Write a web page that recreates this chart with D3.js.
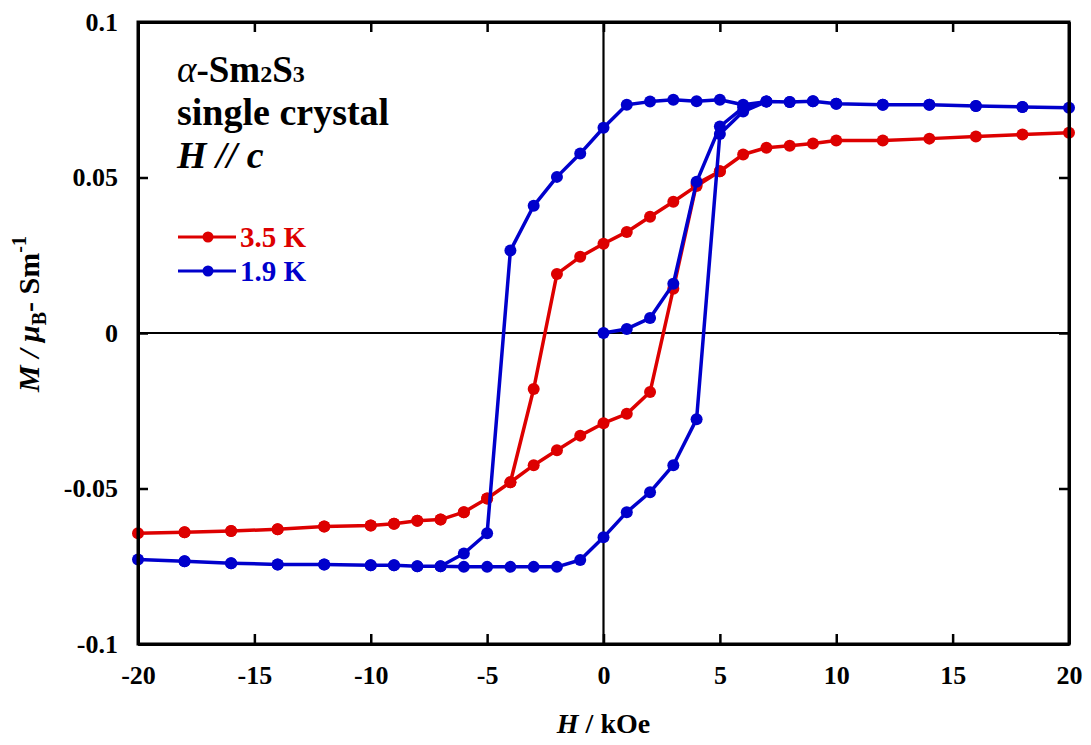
<!DOCTYPE html>
<html>
<head>
<meta charset="utf-8">
<script src="https://cdn.jsdelivr.net/npm/d3@7"></script>
<style>
  body { margin: 0; background: #fff; }
  text { font-family: "Liberation Serif", "Times New Roman", serif; font-weight: bold; }
</style>
</head>
<body>
<script>
var margin = { top: 22, right: 22, bottom: 101, left: 138 },
  w = 1091, h = 745;

// 3.5 K loop: descending branch (+20 -> -20), then ascending (-20 -> +5)
var redH = [20, 18, 16, 14, 12, 10, 9, 8, 7, 6, 5, 4, 3, 2, 1, 0, -1, -2, -3, -4, -5, -6, -7, -8, -9, -10, -12, -14, -16, -18, -20,
            -18, -16, -14, -12, -10, -9, -8, -7, -6, -5, -4, -3, -2, -1, 0, 1, 2, 3, 4, 5];
var redM = [0.0644, 0.0638, 0.0632, 0.0625, 0.0619, 0.0619, 0.0609, 0.0602, 0.0596, 0.0574, 0.0520, 0.0473, 0.0422, 0.0374, 0.0325, 0.0287, 0.0245, 0.0190, -0.0180, -0.0480, -0.0532, -0.0576, -0.0600, -0.0604, -0.0613, -0.0619, -0.0622, -0.0631, -0.0637, -0.0641, -0.0644,
            -0.0641, -0.0637, -0.0631, -0.0622, -0.0619, -0.0613, -0.0604, -0.0600, -0.0576, -0.0532, -0.0480, -0.0425, -0.0377, -0.0330, -0.0290, -0.0260, -0.0190, 0.0142, 0.0480, 0.0520];

// 1.9 K: virgin curve from 0, then descending, then ascending
var blueH = [0, 1, 2, 3, 4, 5, 6, 7, 8, 9, 10, 12, 14, 16, 18, 20,
             18, 16, 14, 12, 10, 9, 8, 7, 6, 5, 4, 3, 2, 1, 0, -1, -2, -3, -4, -5, -6, -7, -8, -9, -10, -12, -14, -16, -18, -20,
             -18, -16, -14, -12, -10, -9, -8, -7, -6, -5, -4, -3, -2, -1, 0, 1, 2, 3, 4, 5, 6, 7];
var blueM = [0, 0.0013, 0.0048, 0.0158, 0.0486, 0.0664, 0.0725, 0.0744, 0.0743, 0.0745, 0.0737, 0.0734, 0.0734, 0.0730, 0.0727, 0.0724,
             0.0727, 0.0730, 0.0734, 0.0734, 0.0737, 0.0745, 0.0743, 0.0744, 0.0734, 0.0750, 0.0745, 0.0750, 0.0744, 0.0734, 0.0660, 0.0577, 0.0502, 0.0409, 0.0265, -0.0644, -0.0709, -0.0750, -0.0750, -0.0747, -0.0747, -0.0744, -0.0744, -0.0740, -0.0734, -0.0728,
             -0.0734, -0.0740, -0.0744, -0.0744, -0.0747, -0.0747, -0.0750, -0.0750, -0.0752, -0.0752, -0.0752, -0.0752, -0.0752, -0.0730, -0.0657, -0.0576, -0.0512, -0.0425, -0.0277, 0.0640, 0.0712, 0.0744];

var xTicks = [-20, -15, -10, -5, 0, 5, 10, 15, 20];
var xTickLabels = ["-20", "-15", "-10", "-5", "0", "5", "10", "15", "20"];
var yTicks = [-0.1, -0.05, 0, 0.05, 0.1];
var yTickLabels = ["-0.1", "-0.05", "0", "0.05", "0.1"];

var series = [
  { name: "3.5 K", color: "#dd0000", H: redH, M: redM },
  { name: "1.9 K", color: "#0000cc", H: blueH, M: blueM }
];

var svg = d3.select("body").append("svg")
  .attr("width", w)
  .attr("height", h);

var xScale = d3.scaleLinear().domain([-20, 20]).range([margin.left, w - margin.right]);
var yScale = d3.scaleLinear().domain([-0.1, 0.1]).range([h - margin.bottom, margin.top]);

// zero lines
svg.append("line")
  .attr("x1", xScale(-20)).attr("x2", xScale(20))
  .attr("y1", yScale(0)).attr("y2", yScale(0))
  .attr("stroke", "#000").attr("stroke-width", 2.2);
svg.append("line")
  .attr("x1", xScale(0)).attr("x2", xScale(0))
  .attr("y1", yScale(-0.1)).attr("y2", yScale(0.1))
  .attr("stroke", "#000").attr("stroke-width", 2.2);

// data
var line = d3.line()
  .x(function(d) { return xScale(d[0]); })
  .y(function(d) { return yScale(d[1]); });

series.forEach(function(s) {
  var pts = s.H.map(function(v, i) { return [v, s.M[i]]; });
  svg.append("path")
    .datum(pts)
    .attr("d", line)
    .attr("fill", "none")
    .attr("stroke", s.color)
    .attr("stroke-width", 3.5)
    .attr("stroke-linejoin", "round");
  svg.append("g").selectAll("circle").data(pts).enter().append("circle")
    .attr("cx", function(d) { return xScale(d[0]); })
    .attr("cy", function(d) { return yScale(d[1]); })
    .attr("r", 6)
    .attr("fill", s.color);
});

// axes with inward ticks
var fmtY = function(d) { return yTickLabels[yTicks.indexOf(d)]; };
var fmtX = function(d) { return xTickLabels[xTicks.indexOf(d)]; };
var axB = svg.append("g").attr("transform", "translate(0," + yScale(-0.1) + ")")
  .call(d3.axisBottom(xScale).tickValues(xTicks).tickSizeInner(-10).tickSizeOuter(0).tickPadding(22).tickFormat(fmtX));
var axT = svg.append("g").attr("transform", "translate(0," + yScale(0.1) + ")")
  .call(d3.axisTop(xScale).tickValues(xTicks).tickSizeInner(-10).tickSizeOuter(0).tickFormat(""));
var axL = svg.append("g").attr("transform", "translate(" + xScale(-20) + ",0)")
  .call(d3.axisLeft(yScale).tickValues(yTicks).tickSizeInner(-10).tickSizeOuter(0).tickPadding(20).tickFormat(fmtY));
var axR = svg.append("g").attr("transform", "translate(" + xScale(20) + ",0)")
  .call(d3.axisRight(yScale).tickValues(yTicks).tickSizeInner(-10).tickSizeOuter(0).tickFormat(""));

[axB, axT, axL, axR].forEach(function(a) {
  a.select(".domain").attr("stroke", "#000").attr("stroke-width", 3);
  a.selectAll(".tick line").attr("stroke", "#000").attr("stroke-width", 2.5);
  a.selectAll("text").attr("fill", "#000").style("font-size", "26px")
    .style("font-family", "'Liberation Serif', serif").style("font-weight", "bold");
});
axB.selectAll("text").attr("dy", "0.71em");

// frame
svg.append("rect")
  .attr("x", xScale(-20)).attr("y", yScale(0.1))
  .attr("width", xScale(20) - xScale(-20)).attr("height", yScale(-0.1) - yScale(0.1))
  .attr("fill", "none").attr("stroke", "#000").attr("stroke-width", 3);

// x label
var xl = svg.append("text").attr("x", xScale(0)).attr("y", 733).attr("text-anchor", "middle")
  .style("font-size", "28px");
xl.append("tspan").style("font-style", "italic").text("H");
xl.append("tspan").text(" / kOe");

// y label
var yl = svg.append("text").attr("transform", "translate(39," + 314 + ") rotate(-90)")
  .attr("text-anchor", "middle").style("font-size", "30px");
yl.append("tspan").style("font-style", "italic").text("M / \u03bc");
yl.append("tspan").attr("dy", 7).style("font-size", "20px").text("B");
yl.append("tspan").attr("dy", -7).text("- Sm");
yl.append("tspan").attr("dy", -13).style("font-size", "20px").text("-1");

// annotation
var t1 = svg.append("text").attr("x", 177).attr("y", 82).style("font-size", "37px");
t1.append("tspan").style("font-style", "italic").style("font-weight", "normal").text("\u03b1");
t1.append("tspan").text("-Sm");
t1.append("tspan").style("font-size", "24px").text("2");
t1.append("tspan").text("S");
t1.append("tspan").style("font-size", "24px").text("3");
svg.append("text").attr("x", 177).attr("y", 125).style("font-size", "38px").text("single crystal");
var t3 = svg.append("text").attr("x", 177).attr("y", 168).style("font-size", "38px").style("font-style", "italic");
t3.append("tspan").text("H // c");

// legend
var leg = svg.append("g").selectAll("g").data(series).enter().append("g")
  .attr("transform", function(d, i) { return "translate(178," + (237 + i * 34) + ")"; });
leg.append("line").attr("x1", 0).attr("x2", 58).attr("y1", 0).attr("y2", 0)
  .attr("stroke", function(d) { return d.color; }).attr("stroke-width", 3);
leg.append("circle").attr("cx", 30).attr("cy", 0).attr("r", 5.5)
  .attr("fill", function(d) { return d.color; });
leg.append("text").attr("x", 62).attr("y", 10).style("font-size", "29px")
  .attr("fill", function(d) { return d.color; })
  .text(function(d) { return d.name; });
</script>
</body>
</html>
